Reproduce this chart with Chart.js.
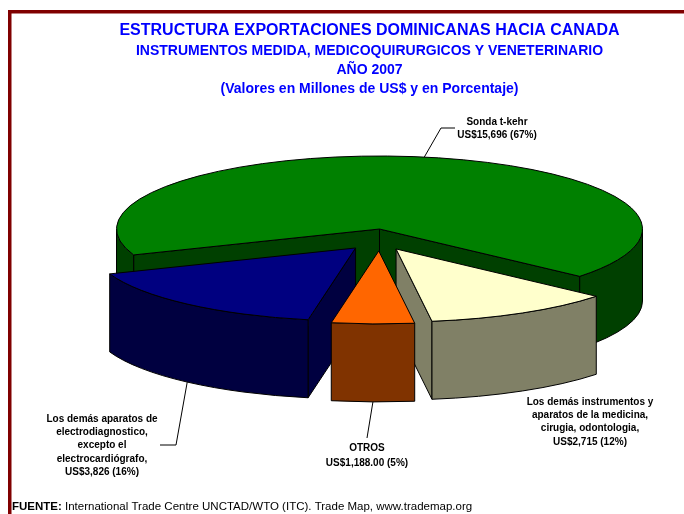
<!DOCTYPE html>
<html>
<head>
<meta charset="utf-8">
<script src="https://cdn.jsdelivr.net/npm/chart.js@4.4.1/dist/chart.umd.min.js"></script>
<style>
    html, body { margin: 0; padding: 0; background: #fff; }
    #wrap { width: 684px; height: 514px; }
</style>
</head>
<body>
<div id="wrap"><canvas id="chart" width="684" height="514"></canvas></div>
<script>
// slices, clockwise from the big one at the back
const categories = ['Sonda t-kehr', 'Los demás instrumentos y aparatos de la medicina, cirugia, odontologia', 'OTROS', 'Los demás aparatos de electrodiagnostico, excepto el electrocardiógrafo'];
const values = [15696, 2715, 1188, 3826];
const labelLines = [
    ['Sonda t-kehr', 'US$15,696 (67%)'],
    ['Los demás instrumentos y', 'aparatos de la medicina,', 'cirugia, odontologia,', 'US$2,715 (12%)'],
    ['OTROS', 'US$1,188.00 (5%)'],
    ['Los demás aparatos de', 'electrodiagnostico,', 'excepto el', 'electrocardiógrafo,', 'US$3,826 (16%)'],
];
const titleLines = [
    'ESTRUCTURA EXPORTACIONES DOMINICANAS HACIA CANADA',
    'INSTRUMENTOS MEDIDA, MEDICOQUIRURGICOS Y VENETERINARIO',
    'AÑO 2007',
    '(Valores en Millones de US$ y en Porcentaje)',
];
const sourceBold = 'FUENTE:';
const sourceText = ' International Trade Centre UNCTAD/WTO (ITC). Trade Map, www.trademap.org';

const topColors = ['#008000', '#FFFFCC', '#FF6600', '#000080'];
const sideColors = ['#004000', '#808066', '#803300', '#000040'];

const FONT = '"Liberation Sans", Arial, Helvetica, sans-serif';

// draws the pie as a tilted 3D disc using the arc geometry chart.js computed
const pie3d = {
    id: 'pie3d',
    beforeDatasetDraw(chart, args, opts) {
        const ctx = chart.ctx;
        const arcs = chart.getDatasetMeta(args.index).data;
        const slices = arcs.map((el, i) => {
            const p = el.getProps(['x', 'y', 'startAngle', 'endAngle', 'outerRadius'], true);
            const mid = (p.startAngle + p.endAngle) / 2;
            const t = (el.options.offset || 0) / 4;
            return {
                i, s: p.startAngle, e: p.endAngle, mid,
                cx: p.x + Math.cos(mid) * t * opts.explodeX,
                cy: p.y + Math.sin(mid) * t * opts.tilt,
                rx: p.outerRadius,
                ry: p.outerRadius * opts.tilt,
                d: t > 0 ? opts.explodedDepth : opts.depth,
                top: el.options.backgroundColor,
                side: opts.sideColors[i],
            };
        });
        chart.$slices = slices;

        const pt = (sl, a, h) => [sl.cx + sl.rx * Math.cos(a), sl.cy + sl.ry * Math.sin(a) + h];

        ctx.save();
        ctx.lineWidth = 1;
        ctx.strokeStyle = '#000';
        ctx.lineJoin = 'round';

        const order = slices.slice().sort((a, b) => a.cy - b.cy);
        order.forEach(sl => {
            // cut faces
            const walls = [];
            if (Math.cos(sl.s) < 0) walls.push(sl.s);
            if (Math.cos(sl.e) > 0) walls.push(sl.e);
            walls.forEach(a => {
                ctx.beginPath();
                ctx.moveTo(sl.cx, sl.cy);
                ctx.lineTo(...pt(sl, a, 0));
                ctx.lineTo(...pt(sl, a, sl.d));
                ctx.lineTo(sl.cx, sl.cy + sl.d);
                ctx.closePath();
                ctx.fillStyle = sl.side;
                ctx.fill();
                ctx.stroke();
            });

            // outer rim, only the front half shows
            const TAU = Math.PI * 2;
            let s0 = ((sl.s % TAU) + TAU) % TAU;
            const e0 = s0 + (sl.e - sl.s);
            [0, TAU].forEach(k => {
                const a1 = Math.max(s0, k);
                const a2 = Math.min(e0, k + Math.PI);
                if (a2 <= a1) return;
                ctx.beginPath();
                ctx.ellipse(sl.cx, sl.cy, sl.rx, sl.ry, 0, a1, a2, false);
                ctx.ellipse(sl.cx, sl.cy + sl.d, sl.rx, sl.ry, 0, a2, a1, true);
                ctx.closePath();
                ctx.fillStyle = sl.side;
                ctx.fill();
                ctx.stroke();
            });

            // top
            ctx.beginPath();
            ctx.moveTo(sl.cx, sl.cy);
            ctx.ellipse(sl.cx, sl.cy, sl.rx, sl.ry, 0, sl.s, sl.e, false);
            ctx.closePath();
            ctx.fillStyle = sl.top;
            ctx.fill();
            ctx.stroke();
        });
        ctx.restore();
        return false;
    },
};

const annotations = {
    id: 'annotations',
    afterDraw(chart, args, opts) {
        const ctx = chart.ctx;
        ctx.save();

        // frame
        ctx.fillStyle = '#800000';
        ctx.fillRect(8, 10, 676, 3.5);
        ctx.fillRect(8, 10, 3.5, 504);

        // titles
        ctx.fillStyle = '#0000FF';
        ctx.textAlign = 'center';
        ctx.textBaseline = 'middle';
        titleLines.forEach((line, i) => {
            ctx.font = (i === 0 ? 'bold 16px ' : 'bold 14px ') + FONT;
            ctx.fillText(line, opts.titleX, opts.titleY[i]);
        });

        // leaders + labels
        const slices = chart.$slices || [];
        ctx.strokeStyle = '#000';
        ctx.lineWidth = 1;
        opts.labels.forEach((lb, i) => {
            const sl = slices[i];
            if (sl && lb.elbow) {
                const h = lb.fromTop ? 0 : sl.d;
                ctx.beginPath();
                ctx.moveTo(sl.cx + sl.rx * Math.cos(sl.mid), sl.cy + sl.ry * Math.sin(sl.mid) + h);
                lb.elbow.forEach(p => ctx.lineTo(p[0], p[1]));
                ctx.stroke();
            }
            ctx.fillStyle = '#000';
            ctx.font = 'bold 10px ' + FONT;
            labelLines[i].forEach((t, j) => {
                ctx.fillText(t, lb.x, lb.y + j * lb.lh);
            });
        });

        // source
        ctx.textAlign = 'left';
        ctx.font = 'bold 11.5px ' + FONT;
        ctx.fillText(sourceBold, 12, 507);
        const w = ctx.measureText(sourceBold).width;
        ctx.font = '11.5px ' + FONT;
        ctx.fillText(sourceText, 12 + w, 507);
        ctx.restore();
    },
};

new Chart(document.getElementById('chart'), {
    type: 'pie',
    data: {
        labels: categories,
        datasets: [{
            data: values,
            backgroundColor: topColors,
            borderColor: '#000',
            borderWidth: 1,
            offset: [0, 328, 316, 356],
            radius: 263,
            rotation: 249.2,
        }],
    },
    options: {
        responsive: false,
        animation: false,
        devicePixelRatio: 1,
        events: [],
        layout: { padding: { left: 75, right: 0, top: 0, bottom: 56 } },
        plugins: {
            legend: { display: false },
            tooltip: { enabled: false },
            pie3d: {
                tilt: 73 / 263,
                explodeX: 0.42,
                depth: 72,
                explodedDepth: 78,
                sideColors: sideColors,
            },
            annotations: {
                titleX: 369.5,
                titleY: [30.5, 51, 70, 89],
                labels: [
                    { x: 497, y: 122, lh: 13.5, fromTop: true, elbow: [[441, 128], [455, 128]] },
                    { x: 590, y: 402, lh: 13.3 },
                    { x: 367, y: 448.5, lh: 14.5, elbow: [[367, 438]] },
                    { x: 102, y: 419.5, lh: 13.1, elbow: [[176, 445], [160, 445]] },
                ],
            },
        },
    },
    plugins: [pie3d, annotations],
});
</script>
</body>
</html>
